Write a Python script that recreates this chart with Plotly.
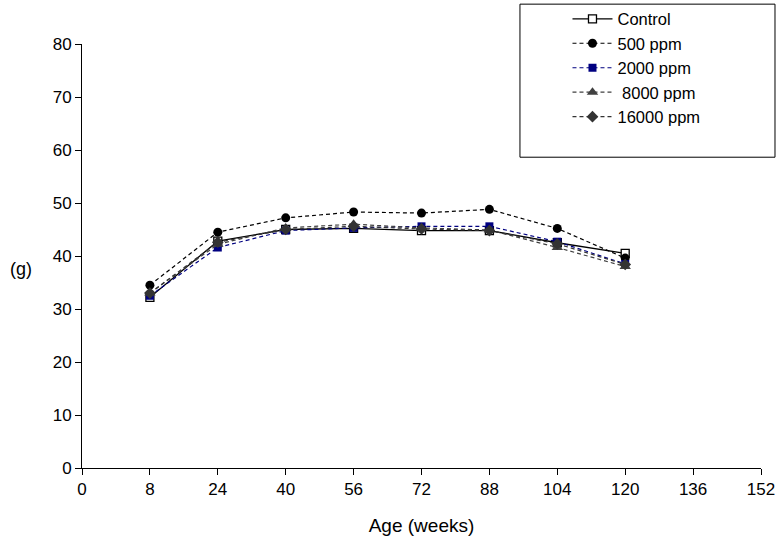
import plotly.graph_objects as go

tick_labels = ["0", "8", "24", "40", "56", "72", "88", "104", "120", "136", "152"]
ages = ["8", "24", "40", "56", "72", "88", "104", "120"]
control = [32.2, 42.8, 45.0, 45.2, 44.8, 44.8, 42.5, 40.5]
ppm500 = [34.5, 44.5, 47.2, 48.3, 48.1, 48.8, 45.2, 39.6]
ppm2000 = [32.5, 41.6, 44.8, 45.3, 45.6, 45.6, 42.7, 38.5]
ppm8000 = [33.0, 42.2, 45.3, 46.0, 45.3, 44.9, 41.6, 38.0]
ppm16000 = [33.0, 42.6, 45.0, 45.6, 45.1, 44.8, 42.3, 38.4]

FONT = "Arial, Liberation Sans, sans-serif"
DASH = "4px,3px"

fig = go.Figure()
fig.add_trace(go.Scatter(x=ages, y=control, name="Control", mode="lines+markers",
                         line=dict(color="black", width=1.3),
                         marker=dict(symbol="square", size=8, color="white",
                                     line=dict(color="black", width=1.3))))
fig.add_trace(go.Scatter(x=ages, y=ppm500, name="500 ppm", mode="lines+markers",
                         line=dict(color="black", width=1.2, dash=DASH),
                         marker=dict(symbol="circle", size=9, color="black")))
fig.add_trace(go.Scatter(x=ages, y=ppm2000, name="2000 ppm", mode="lines+markers",
                         line=dict(color="#000080", width=1.2, dash=DASH),
                         marker=dict(symbol="square", size=8, color="#000080")))
fig.add_trace(go.Scatter(x=ages, y=ppm8000, name=" 8000 ppm", mode="lines+markers",
                         line=dict(color="#404040", width=1.2, dash=DASH),
                         marker=dict(symbol="triangle-up", size=10, color="#404040")))
fig.add_trace(go.Scatter(x=ages, y=ppm16000, name="16000 ppm", mode="lines+markers",
                         line=dict(color="#333333", width=1.2, dash=DASH),
                         marker=dict(symbol="diamond", size=9, color="#333333")))

fig.update_layout(
    width=780, height=543,
    margin=dict(l=82, r=19, t=44, b=75, autoexpand=False),
    paper_bgcolor="white", plot_bgcolor="white",
    font=dict(family=FONT, size=17, color="black"),
    showlegend=True,
    legend=dict(x=0.715, y=1.10, xanchor="left", yanchor="top",
                bgcolor="rgba(0,0,0,0)", borderwidth=0,
                font=dict(family=FONT, size=16.5, color="black"),
                itemwidth=40, tracegroupgap=0),
    xaxis=dict(type="category", categoryorder="array", categoryarray=tick_labels,
               range=[0, 10], showline=True, linecolor="black", linewidth=1,
               ticks="outside", ticklen=6, tickcolor="black", showgrid=False,
               zeroline=False, tickfont=dict(size=17),
               title=dict(text="Age (weeks)", font=dict(size=19), standoff=20)),
    yaxis=dict(range=[0, 80], dtick=10, showline=True, linecolor="black", linewidth=1,
               ticks="outside", ticklen=6, tickcolor="black", showgrid=False,
               zeroline=False, tickfont=dict(size=17)),
    shapes=[dict(type="rect", xref="paper", yref="paper",
                 x0=0.645, x1=1.0206, y0=0.733, y1=1.094,
                 line=dict(color="black", width=1), fillcolor="rgba(0,0,0,0)")],
    annotations=[dict(text="(g)", xref="paper", yref="paper", x=-0.109, y=0.47,
                      xanchor="left", yanchor="middle", showarrow=False,
                      font=dict(size=18))],
)

fig.write_html("out.html", config={"displayModeBar": False},
               post_script="document.body.style.margin='0';document.body.style.overflow='hidden';")
